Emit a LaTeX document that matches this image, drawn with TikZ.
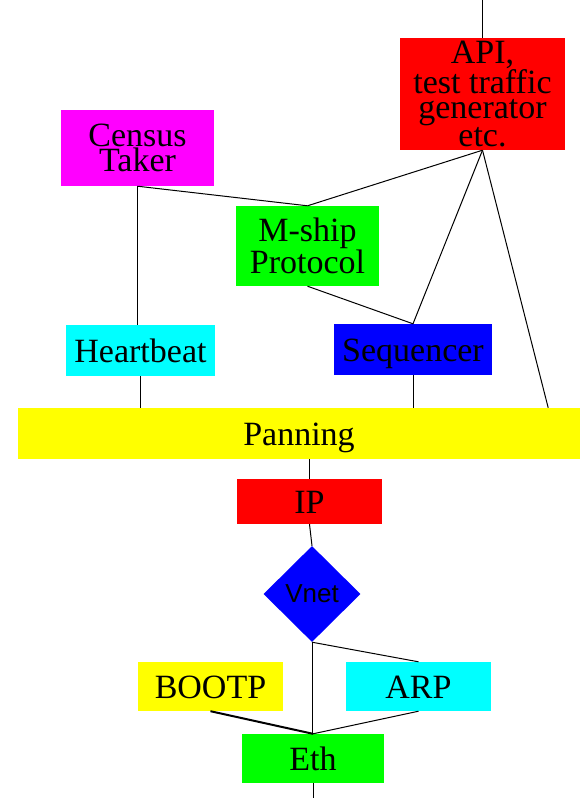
\documentclass[tikz,border=0pt]{standalone}
\usepackage{xcolor}
\usepackage{fontspec}
\setmainfont{Liberation Serif}
\newfontfamily\vnetfont{Liberation Sans}
\usepackage{tikz}
\usetikzlibrary{positioning,shapes.geometric}

\definecolor{fred}{RGB}{255,0,0}
\definecolor{fmagenta}{RGB}{255,0,255}
\definecolor{fgreen}{RGB}{0,255,0}
\definecolor{fcyan}{RGB}{0,255,255}
\definecolor{fblue}{RGB}{0,0,255}
\definecolor{fyellow}{RGB}{255,255,0}

\tikzset{
    layer/.style={rectangle, inner sep=0pt, align=center,
        font=\fontsize{34}{25}\selectfont},
    oneline/.style={text height=23pt, text depth=0pt},
    link/.style={line width=1pt}
}

\begin{document}
\begin{tikzpicture}[x=1pt, y=-1pt]
    \useasboundingbox (0,0) rectangle (580,798);
    \begin{scope}[
        every node/.style={layer}
    ]
        % Layers
        \node[fill=fred, minimum width=165pt, minimum height=112pt] (api) at (482.5,94) {API,\\test traffic\\generator\\etc.};
        \node[fill=fmagenta, minimum width=153pt, minimum height=76pt] (census) at (137.5,148) {Census\\Taker};
        \node[fill=fgreen, minimum width=143pt, minimum height=80pt] (mship) at (307.5,246) {M-ship\\Protocol};
        \node[oneline, fill=fcyan, minimum width=149pt, minimum height=51pt] (heartbeat) at (140.5,350.5) {Heartbeat};
        \node[oneline, fill=fblue, minimum width=158pt, minimum height=51pt] (sequencer) at (413,349.5) {Sequencer};
        \node[oneline, fill=fyellow, minimum width=562pt, minimum height=51pt] (panning) at (299,433.5) {Panning};
        \node[oneline, fill=fred, minimum width=145pt, minimum height=45pt] (ip) at (309.5,501.5) {IP};
        \node[diamond, fill=fblue, minimum width=97pt, minimum height=96pt, font=\vnetfont\fontsize{26}{26}\selectfont] (vnet) at (312,594) {Vnet};
        \node[oneline, fill=fyellow, minimum width=145pt, minimum height=49pt] (bootp) at (210.5,686.5) {BOOTP};
        \node[oneline, fill=fcyan, minimum width=145pt, minimum height=49pt] (arp) at (418.5,686.5) {ARP};
        \node[oneline, fill=fgreen, minimum width=142pt, minimum height=49pt] (eth) at (313,758.5) {Eth};
    \end{scope}
    \coordinate (top) at (482.5,0);
    \coordinate (bottom) at (313,798);
    % Links
    \draw[link] (top) -- (api.north);
    \draw[link] (api.south) -- (mship.north);
    \draw[link] (api.south) -- (sequencer.north);
    \draw[link] (api.south) -- ([xshift=-32pt]panning.north east);
    \draw[link] (census.south) -- (mship.north);
    \draw[link] (census.south) -- (census.south |- heartbeat.north);
    \draw[link] (mship.south) -- (sequencer.north);
    \draw[link] (heartbeat.south) -- (heartbeat.south |- panning.north);
    \draw[link] (sequencer.south) -- (sequencer.south |- panning.north);
    \draw[link] (ip.north |- panning.south) -- (ip.north);
    \draw[link] (ip.south) -- (vnet.north);
    \draw[link] (vnet.south) -- (vnet.south |- eth.north);
    \draw[link] (vnet.south) -- (arp.north);
    \draw[line width=2pt] (bootp.south) -- (eth.north);
    \draw[link] (arp.south) -- (eth.north);
    \draw[link] (eth.south) -- (bottom);
\end{tikzpicture}
\end{document}
